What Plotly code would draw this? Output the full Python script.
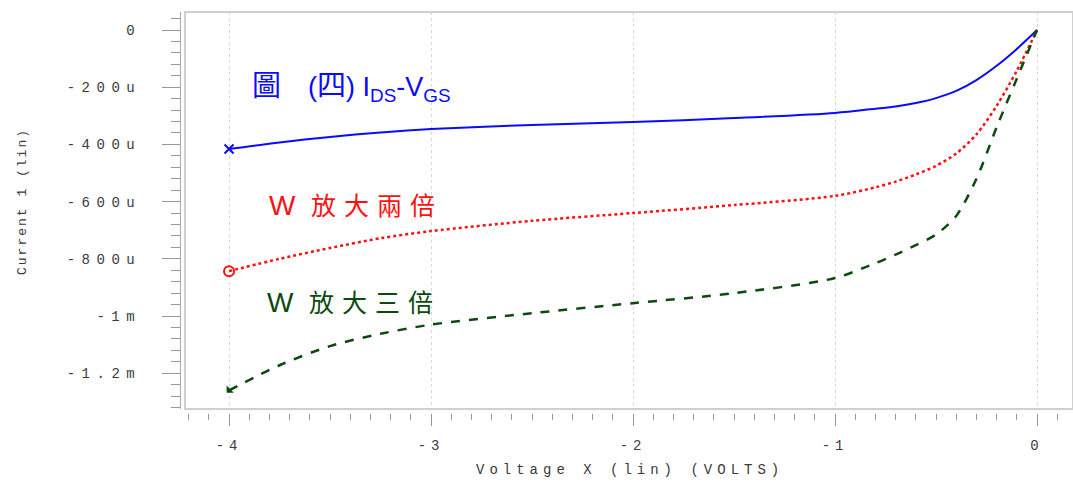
import plotly.graph_objects as go

# ---- data (voltage in V, current in uA) ----
v_blue = [-4, -3.75, -3.5, -3.25, -3, -2.5, -2, -1.5, -1, -0.8, -0.7, -0.6, -0.5, -0.4, -0.3, -0.2, -0.1, 0]
i_blue = [-416, -393, -374, -358, -346, -332, -322, -308, -290, -275, -267, -255, -238, -213, -175, -125, -66, 0]

v_red = [-4, -3.75, -3.5, -3.25, -3, -2.5, -2, -1.5, -1, -0.8, -0.7, -0.6, -0.5, -0.4, -0.3, -0.2, -0.1, 0]
i_red = [-843, -800, -762, -728, -703, -667, -640, -612, -580, -550, -530, -505, -475, -432, -365, -265, -142, 0]

v_green = [-4, -3.75, -3.5, -3.25, -3, -2.5, -2, -1.5, -1, -0.8, -0.7, -0.6, -0.5, -0.4, -0.3, -0.2, -0.1, 0]
i_green = [-1260, -1172, -1105, -1062, -1030, -990, -955, -920, -867, -815, -785, -752, -715, -650, -520, -340, -170, 0]

x_tickvals = [-4, -3, -2, -1, 0]
x_ticktext = ["-4", "-3", "-2", "-1", "0"]
y_tickvals = [0, -200, -400, -600, -800, -1000, -1200]
y_ticktext = ["0", "-200u", "-400u", "-600u", "-800u", "-1m", "-1.2m"]
y_gridvals = [0, -400, -800, -1200]

LSX = '<span style="letter-spacing:5px">{}</span>'
LSY = '<span style="letter-spacing:6.5px">{}</span>'
LS2 = '<span style="letter-spacing:2px">{}</span>'
MONO = dict(family="Liberation Mono, Courier New, monospace", size=14, color="#3a3a3a")
MONO_T = dict(family="Liberation Mono, Courier New, monospace", size=13, color="#3a3a3a")

BLUE, RED, GREEN = "#0a0aff", "#ff1010", "#0d4a0d"

fig = go.Figure()
fig.add_trace(go.Scatter(x=v_blue, y=i_blue, mode="lines",
                         line=dict(color=BLUE, width=2, shape="spline", smoothing=0.8),
                         showlegend=False, hoverinfo="skip"))
fig.add_trace(go.Scatter(x=[v_blue[0]], y=[i_blue[0]], mode="markers",
                         marker=dict(symbol="x-thin", size=9, color=BLUE, line=dict(color=BLUE, width=2)),
                         showlegend=False))
fig.add_trace(go.Scatter(x=v_red, y=i_red, mode="lines",
                         line=dict(color=RED, width=2.5, dash="dot", shape="spline", smoothing=0.8),
                         showlegend=False))
fig.add_trace(go.Scatter(x=[v_red[0]], y=[i_red[0]], mode="markers",
                         marker=dict(symbol="circle-open", size=10, color=RED, line=dict(color=RED, width=2)),
                         showlegend=False))
fig.add_trace(go.Scatter(x=v_green, y=i_green, mode="lines",
                         line=dict(color=GREEN, width=2.5, dash="dash", shape="spline", smoothing=0.8),
                         showlegend=False))
fig.add_trace(go.Scatter(x=[v_green[0]], y=[i_green[0]], mode="markers",
                         marker=dict(symbol="triangle-sw", size=8, color=GREEN),
                         showlegend=False))

L, R, T, B = 140, 0, 12, 65
W, H = 1073, 482
PW, PH = W - L - R, H - T - B
def px_x(p):
    return (p - L) / PW
def px_y(p):
    return (H - B - p) / PH

fig.update_layout(
    width=W, height=H, margin=dict(l=L, r=R, t=T, b=B),
    paper_bgcolor="white", plot_bgcolor="white",
    xaxis=dict(domain=[px_x(185), 1], range=[-4.218, 0.178], anchor="free", position=px_y(413),
               tickmode="array", tickvals=x_tickvals, ticktext=[LSX.format(t) for t in x_ticktext],
               ticks="outside", ticklen=12, tickcolor="#999", tickwidth=1,
               minor=dict(dtick=0.1, tick0=0, ticks="outside", ticklen=6, tickcolor="#999", showgrid=False),
               showline=False, zeroline=False, showgrid=True, gridcolor="#d9d9d9", griddash="dot", gridwidth=1,
               tickfont=MONO, ticklabelstandoff=7),
    yaxis=dict(domain=[px_y(409), 1], range=[-1325, 63], anchor="free", position=px_x(180),
               tickmode="array", tickvals=y_tickvals, ticktext=[LSY.format(t) for t in y_ticktext],
               ticks="outside", ticklen=18, tickcolor="#999", tickwidth=1,
               minor=dict(dtick=40, tick0=0, ticks="outside", ticklen=9, tickcolor="#999", showgrid=False),
               showline=True, linecolor="#aaa", linewidth=1, zeroline=False, showgrid=False,
               tickfont=MONO, ticklabelstandoff=18),
    yaxis2=dict(overlaying="y", matches="y", anchor="x", tickmode="array", tickvals=y_gridvals,
                showticklabels=False, ticks="", showgrid=True, gridcolor="#dcdcdc", griddash="dash",
                zeroline=False, showline=False),
)

fig.add_shape(type="rect", xref="x domain", yref="y domain", x0=0, x1=1, y0=0, y1=1,
              line=dict(color="#d0d0d0", width=2), layer="above")

fig.add_annotation(xref="paper", yref="paper", x=px_x(22), y=px_y(202), xanchor="center", yanchor="middle",
                   text=LS2.format("Current 1 (lin)"), textangle=-90, showarrow=False, font=MONO_T)
fig.add_annotation(xref="paper", yref="paper", x=px_x(630), y=px_y(470), xanchor="center", yanchor="middle",
                   text=LSX.format("Voltage X (lin) (VOLTS)"), showarrow=False, font=MONO)

SANS = "Liberation Sans, Arial, Noto Sans CJK TC"
fig.add_annotation(xref="x", yref="y", x=-3.896, y=-203, xanchor="left", yanchor="middle", showarrow=False,
                   text='<span style="font-size:29px">圖</span>\u3000(<span style="font-size:29px">四</span>)&nbsp;I<sub>DS</sub>-V<sub>GS</sub>',
                   font=dict(family=SANS, size=27, color=BLUE))
fig.add_annotation(xref="x", yref="y", x=-3.81, y=-612, xanchor="left", yanchor="middle", showarrow=False,
                   text='W&nbsp;&nbsp;<span style="font-size:25px;letter-spacing:8px">放大兩倍</span>',
                   font=dict(family=SANS, size=28, color=RED))
fig.add_annotation(xref="x", yref="y", x=-3.82, y=-951, xanchor="left", yanchor="middle", showarrow=False,
                   text='W&nbsp;&nbsp;<span style="font-size:25px;letter-spacing:8px">放大三倍</span>',
                   font=dict(family=SANS, size=28, color=GREEN))

fig.write_html("out.html", config={"displayModeBar": False},
               post_script="document.body.style.margin='0';")
